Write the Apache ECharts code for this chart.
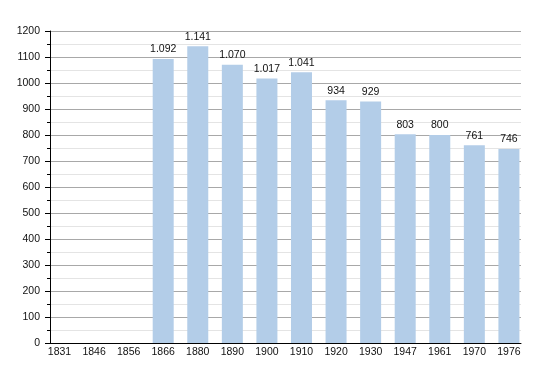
<!DOCTYPE html>
<html><head><meta charset="utf-8">
<script src="https://cdn.jsdelivr.net/npm/echarts@6/dist/echarts.min.js"></script>
<style>html,body{margin:0;padding:0;background:#fff}#c{width:550px;height:373px}</style>
</head><body><div id="c"></div>
<script>
const years = ['1831','1846','1856','1866','1880','1890','1900','1910','1920','1930','1947','1961','1970','1976'];
const population = [null,null,null,1092,1141,1070,1017,1041,934,929,803,800,761,746];
const yTicks = {min:0, max:1200, interval:100};

function fmt(v){ return String(v).replace(/\B(?=(\d{3})+(?!\d))/g,'.'); }
const font = 'Liberation Sans, Arial, sans-serif';
const chart = echarts.init(document.getElementById('c'));
chart.setOption({
  animation:false,
  grid:[
    {left:50, right:29, top:31, bottom:30},
    {left:49, right:17, top:31, bottom:30}
  ],
  xAxis:[
    {gridIndex:0, type:'value', min:0, max:1, axisLine:{show:true,lineStyle:{color:'#000',width:1}}, axisTick:{show:false}, axisLabel:{show:false}, splitLine:{show:false}},
    {gridIndex:1, type:'category', data:years, axisLine:{show:false}, axisTick:{show:false},
     axisLabel:{margin:4, fontSize:10.5, color:'#111', fontFamily:font, padding:[0,13.6,0,0], formatter:(v)=>v}, splitLine:{show:false}}
  ],
  yAxis:[
    {gridIndex:0, type:'value', min:yTicks.min, max:yTicks.max, interval:yTicks.interval,
     axisLine:{show:true,lineStyle:{color:'#000',width:1}},
     axisTick:{show:true,length:5,lineStyle:{color:'#000'}},
     minorTick:{show:true,splitNumber:2,length:3,lineStyle:{color:'#000'}},
     axisLabel:{margin:10, fontSize:10.5, color:'#111', fontFamily:font, formatter:(v)=>String(v)},
     splitLine:{show:true,lineStyle:{color:'#a8a8a8',width:1}},
     minorSplitLine:{show:true,lineStyle:{color:'#e4e4e4',width:1}}},
    {gridIndex:1, type:'value', min:yTicks.min, max:yTicks.max, show:false}
  ],
  series:[
    {type:'bar', xAxisIndex:1, yAxisIndex:1, data:population, barWidth:21, barGap:'0%',
     itemStyle:{color:'#b3cde8'},
     label:{show:true, position:'top', distance:4, fontSize:10.5, color:'#111', fontFamily:font, formatter:(p)=>fmt(p.value)}},
    {type:'bar', xAxisIndex:1, yAxisIndex:1, data:years.map(()=>null), barWidth:13.6, silent:true}
  ]
});
</script></body></html>
